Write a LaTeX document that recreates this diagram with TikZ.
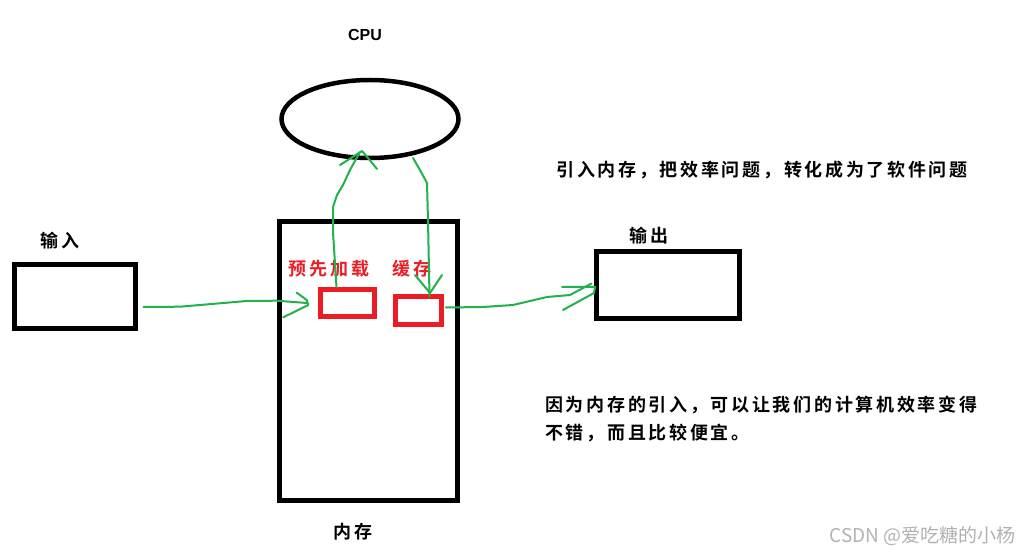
\documentclass[tikz,border=0pt]{standalone}
\usepackage{fontspec}
\setmainfont{Liberation Sans}
\newfontfamily\cjk{Noto Sans CJK SC}[BoldFont={Noto Sans CJK SC Bold},LetterSpace=15]
\newfontfamily\cjkwm{Noto Sans CJK SC}
\usetikzlibrary{shapes.geometric}
\definecolor{pgreen}{RGB}{34,177,76}
\definecolor{pred}{RGB}{237,28,36}
\tikzset{
  blackbox/.style={draw=black,line width=5pt,rectangle,inner sep=0pt},
  redbox/.style={draw=pred,line width=4.5pt,rectangle,inner sep=0pt},
  gline/.style={draw=pgreen,line width=2pt,line join=round,line cap=round},
  lbl/.style={font=\cjk\bfseries\fontsize{18}{21}\selectfont,inner sep=0pt},
  rlbl/.style={lbl,text=pred},
}
\begin{document}
\begin{tikzpicture}[x=1pt,y=-1pt]
\useasboundingbox (0,0) rectangle (1021,553);
\fill[white] (0,0) rectangle (1021,553);

% main shapes
\node[draw=black,line width=4.5pt,ellipse,minimum width=177pt,minimum height=78pt,inner sep=0pt] (cpu) at (370,119) {};
\node[font=\bfseries\fontsize{16}{18}\selectfont,inner sep=0pt] (cputxt) at (365,35) {CPU};

\node[blackbox,minimum width=178pt,minimum height=279pt] (mem) at (368.5,361) {};
\node[lbl] (memtxt) at (353,532) {内存};

\node[blackbox,minimum width=121pt,minimum height=64pt] (inbox) at (74.5,297) {};
\node[lbl] (intxt) at (60,241) {输入};

\node[blackbox,minimum width=143pt,minimum height=67pt] (outbox) at (667.5,285.5) {};
\node[lbl] (outtxt) at (649,236) {输出};

\node[redbox,minimum width=54pt,minimum height=27pt] (pre) at (347.5,303) {};
\node[redbox,minimum width=46pt,minimum height=28pt] (cache) at (418.5,310.5) {};
\node[rlbl] (pretxt) at (329,269) {预先加载};
\node[rlbl] (cachetxt) at (412,269) {缓存};

% notes
\node[lbl] (note1) at (762,170) {引入内存，把效率问题，转化成为了软件问题};
\node[lbl,align=left,anchor=west] (note2) at (545,419) {因为内存的引入，可以让我们的计算机效率变得\\[7pt]不错，而且比较便宜。};

% watermark
\node[font=\cjkwm\fontsize{19}{21}\selectfont,text=black!30,anchor=east,inner sep=0pt] (wm) at (1016,536) {CSDN @爱吃糖的小杨};

% green hand-drawn connectors
\draw[gline] ([xshift=6pt,yshift=-10pt]inbox.east) -- (180,306.7) -- (246.7,301) -- (276.7,300.7) -- (306.7,303);
\draw[gline] (296.7,292.7) -- (306.7,300) -- (308.3,305) -- (283.3,317.3);

\draw[gline] ([xshift=-11pt]pre.north) -- (333,232) -- (333,207) -- (337,195) -- (343,185) -- (350,170) -- (360,152);
\draw[gline] (340,165) -- (362,151) -- (368,158) -- (377,169);

\draw[gline] (413,158) -- (420,170) -- (427,183) -- (428,220) -- ([xshift=11pt,yshift=-2pt]cache.north);
\draw[gline] (415,275) -- (430,293) -- (442,275);

\draw[gline] ([xshift=2pt,yshift=3pt]cache.east) -- (483,307) -- (513,305) -- (547,297) -- (570,295) -- ([xshift=-2pt,yshift=2pt]outbox.west);
\draw[gline] (562,287) -- (595,287) -- (594,293) -- (563,310);
\end{tikzpicture}
\end{document}
